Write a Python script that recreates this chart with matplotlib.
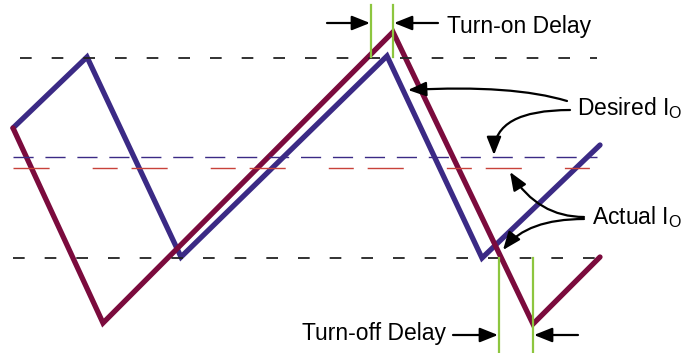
import matplotlib.pyplot as plt

plt.rcParams['font.family'] = ['Liberation Sans', 'DejaVu Sans']
plt.rcParams['mathtext.fontset'] = 'custom'
plt.rcParams['mathtext.rm'] = 'Liberation Sans'
plt.rcParams['lines.scale_dashes'] = False

# 波形的拐点 (画面像素坐标, y 向下)
desired_x = [13, 87, 181, 387, 482, 600]
desired_y = [128, 57, 257, 56, 258, 145]
actual_x = [13, 103, 393, 533, 600]
actual_y = [128, 323, 32, 324, 257]

# 虚线的水平位置
band_top = 58
band_bottom = 258
desired_avg = 157
actual_avg = 168

# 延时标记 (绿色竖线)
on_delay_x = [371, 393]
off_delay_x = [499, 533]

blue = '#3b2a85'
maroon = '#7b0b3d'
green = '#8dc63f'

fig = plt.figure(figsize=(6.97, 3.53), dpi=100)
ax = fig.add_axes([0, 0, 1, 1])
ax.set_xlim(0, 697)
ax.set_ylim(353, 0)
ax.axis('off')

# 虚线
ax.plot([20, 597], [band_top, band_top], color='#222222', lw=1.3, dashes=(8.4, 14.4), zorder=3)
ax.plot([13, 600], [band_bottom, band_bottom], color='#222222', lw=1.3, dashes=(8.4, 14.4), zorder=3)
ax.plot([13, 597], [desired_avg, desired_avg], color=blue, lw=1.0, dashes=(14.5, 8.5), zorder=3)
ax.plot([13, 590], [actual_avg, actual_avg], color='#c8423a', lw=1.0, dashes=(26, 31, 18, 10), zorder=3)

# 电流波形
ax.plot(desired_x, desired_y, color=blue, lw=3.8, solid_joinstyle='miter', solid_capstyle='round', zorder=2)
ax.plot(actual_x, actual_y, color=maroon, lw=3.8, solid_joinstyle='miter', solid_capstyle='round', zorder=2.5)

# 绿色竖线
for x in on_delay_x:
    ax.plot([x, x], [5, 57], color=green, lw=1.6, zorder=4)
for x in off_delay_x:
    ax.plot([x, x], [258, 353], color=green, lw=1.6, zorder=4)

arrow = dict(arrowstyle='-|>,head_length=0.55,head_width=0.22', color='black', lw=1.6,
             shrinkA=0, shrinkB=0, mutation_scale=20)

# 直箭头
ax.annotate('', xy=(on_delay_x[0] - 1, 23), xytext=(327, 23), arrowprops=arrow)
ax.annotate('', xy=(on_delay_x[1] + 1, 23), xytext=(438, 23), arrowprops=arrow)
ax.annotate('', xy=(off_delay_x[0] - 1, 335), xytext=(453, 335), arrowprops=arrow)
ax.annotate('', xy=(off_delay_x[1] + 1, 335), xytext=(578, 335), arrowprops=arrow)

# 弯箭头
ax.annotate('', xy=(408, 90), xytext=(567, 101),
            arrowprops=dict(arrow, connectionstyle='angle3,angleA=163,angleB=3'))
ax.annotate('', xy=(494, 155), xytext=(570, 110),
            arrowprops=dict(arrow, connectionstyle='angle3,angleA=180,angleB=90'))
ax.annotate('', xy=(510, 172), xytext=(584, 217),
            arrowprops=dict(arrow, connectionstyle='angle3,angleA=180,angleB=122'))
ax.annotate('', xy=(503, 250), xytext=(584, 219),
            arrowprops=dict(arrow, connectionstyle='angle3,angleA=180,angleB=52'))

# 文字
fs = 16.5
ax.text(447, 33, 'Turn-on Delay', fontsize=fs, va='baseline', ha='left')
ax.text(577, 115, r'Desired I$_{\mathregular{O}}$', fontsize=fs, va='baseline', ha='left')
ax.text(592, 224, r'Actual I$_{\mathregular{O}}$', fontsize=fs, va='baseline', ha='left')
ax.text(302, 340, 'Turn-off Delay', fontsize=fs, va='baseline', ha='left')

fig.savefig('out.png', dpi=100)
